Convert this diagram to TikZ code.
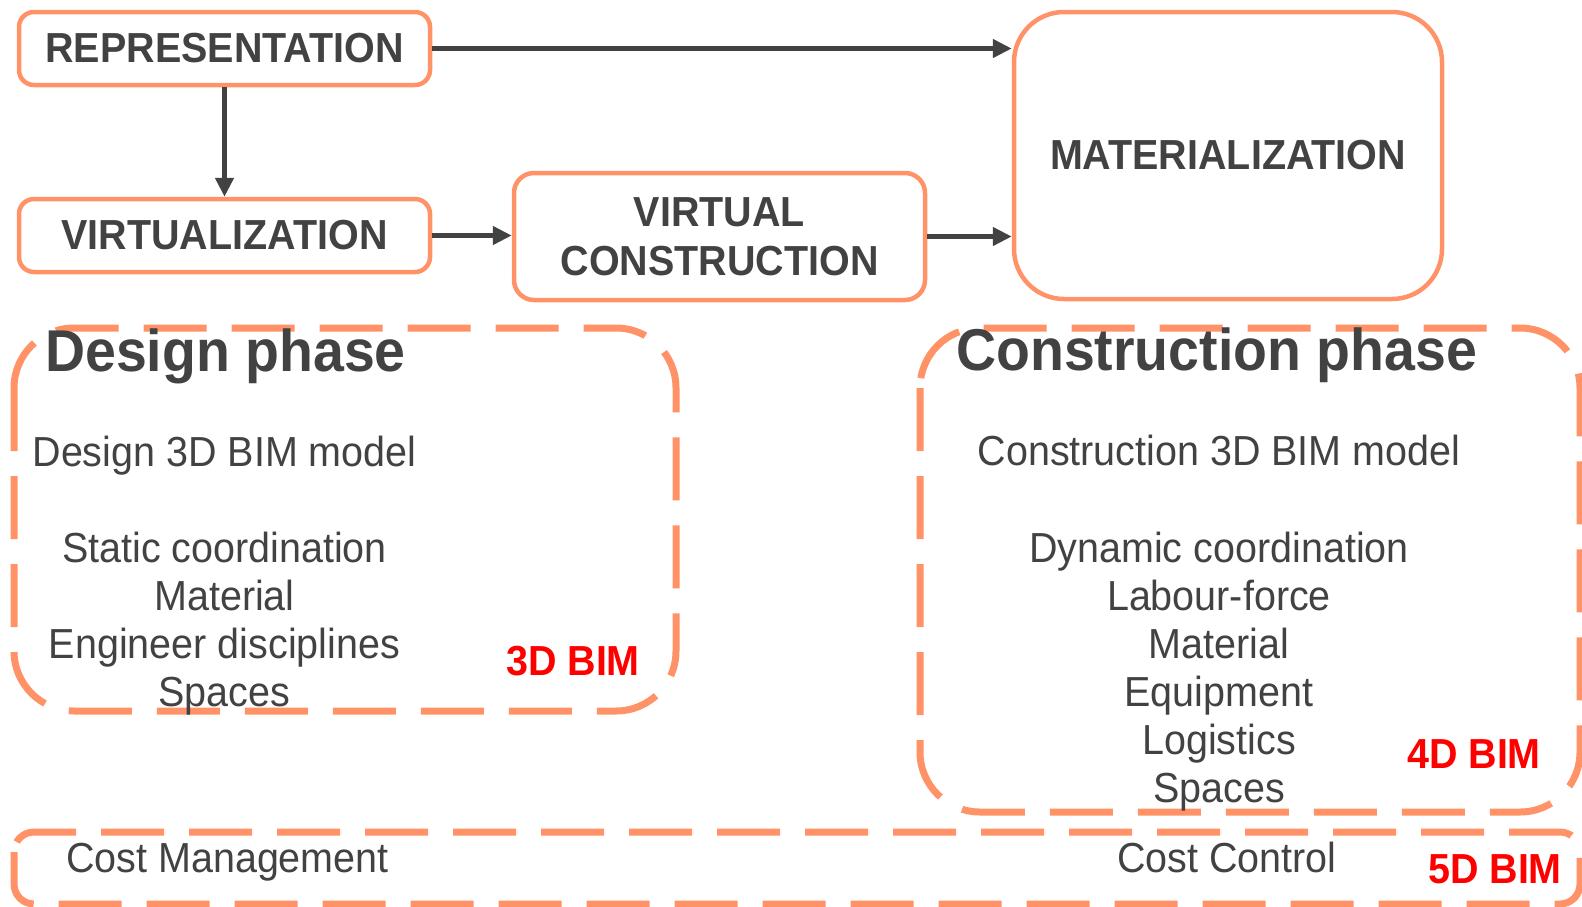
\documentclass[tikz,border=0pt]{standalone}
\usepackage{fontspec}
\setmainfont[FakeStretch=0.94]{Liberation Sans}
\usetikzlibrary{arrows.meta}
\definecolor{boxorange}{RGB}{255,146,102}
\definecolor{darkgrey}{RGB}{66,66,66}
\definecolor{bimred}{RGB}{255,0,0}

\begin{document}
\begin{tikzpicture}
  [x=1pt,y=-1pt,
   stage/.style={draw=boxorange,line width=4.5pt,rounded corners=15pt,minimum width=411pt,minimum height=73pt,inner sep=0pt,text=darkgrey,font=\fontsize{42}{49}\selectfont\bfseries},
   phasebox/.style={draw=boxorange,line width=7pt,dash pattern=on 63pt off 25pt,rounded corners=60pt},
   flow/.style={draw=darkgrey,line width=4.5pt,-{Triangle[length=19pt,width=18pt]}},
   heading/.style={anchor=base west,inner sep=0pt,text=darkgrey,font=\fontsize{59}{64}\selectfont\bfseries},
   item/.style={anchor=base,inner sep=0pt,text=darkgrey,font=\fontsize{42}{48}\selectfont},
   bim/.style={anchor=base,inner sep=0pt,text=bimred,font=\fontsize{42}{48}\selectfont\bfseries}]

  \useasboundingbox (0,0) rectangle (1582,906);

  % phase frames
  \draw[phasebox] (14,328) rectangle (676,711);
  \draw[phasebox] (920,328) rectangle (1580,812);
  \draw[phasebox,rounded corners=20pt] (14,832) rectangle (1580,904);

  \node[stage] (rep) at (224.5,48.5) {REPRESENTATION};
  \node[stage] (virt) at (224.5,235.5) {VIRTUALIZATION};
  \node[stage,minimum height=127pt,rounded corners=20pt,align=center] (vc) at (719.5,236.5) {VIRTUAL\\CONSTRUCTION};
  \node[stage,minimum width=428pt,minimum height=287pt,rounded corners=50pt] (mat) at (1228,155.5) {MATERIALIZATION};

  \draw[flow] (rep.east) -- (rep.east -| mat.west);
  \draw[flow] (rep.south) -- (virt.north);
  \draw[flow] (virt.east) -- (virt.east -| vc.west);
  \draw[flow] (vc.east) -- (vc.east -| mat.west);

  % design phase
  \node[heading] (design) at (45,371) {Design phase};
  \node[item] (dmodel) at (224.5,466) {Design 3D BIM model};
  \foreach \txt [count=\i] in {Static coordination,Material,Engineer disciplines,Spaces}
    \node[item] (ditem\i) at (224.5,514+48*\i) {\txt};
  \node[bim] (bim3) at (573,675) {3D BIM};

  % construction phase
  \node[heading] (constr) at (956,370) {Construction phase};
  \node[item] (cmodel) at (1219,465) {Construction 3D BIM model};
  \foreach \txt [count=\i] in {Dynamic coordination,Labour-force,Material,Equipment,Logistics,Spaces}
    \node[item] (citem\i) at (1219,514+48*\i) {\txt};
  \node[bim] (bim4) at (1474,768) {4D BIM};

  % cost
  \node[item,anchor=base west] (costm) at (66,872) {Cost Management};
  \node[item,anchor=base west] (costc) at (1117,872) {Cost Control};
  \node[bim] (bim5) at (1495,883) {5D BIM};
\end{tikzpicture}
\end{document}
